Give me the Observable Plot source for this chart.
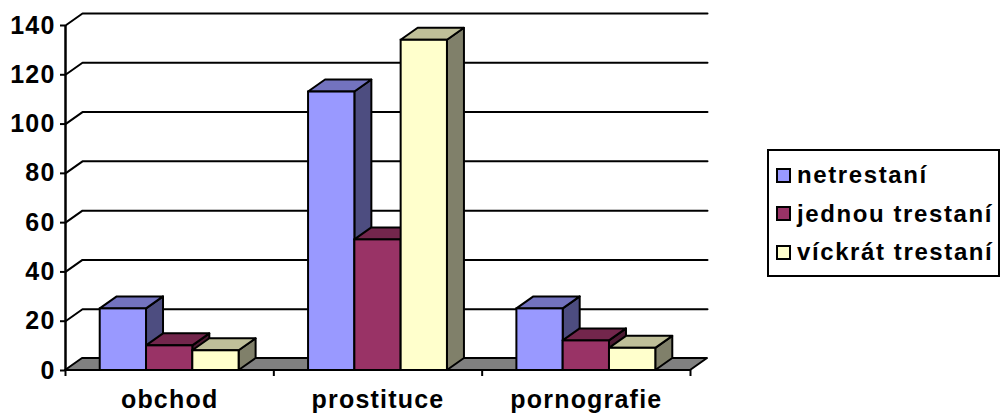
<!DOCTYPE html>
<html>
<head>
<meta charset="utf-8">
<script src="https://cdn.jsdelivr.net/npm/d3@7"></script>
<script src="https://cdn.jsdelivr.net/npm/@observablehq/plot@0.6"></script>
<style>
  html, body { margin: 0; padding: 0; background: #fff; }
  #wrap { position: relative; width: 1004px; height: 417px; overflow: hidden; }
  #legend {
    position: absolute; left: 767px; top: 149px; width: 229px; height: 124px;
    border: 2px solid #000; background: #fff;
    font-family: "Liberation Sans", Arial, sans-serif; font-weight: bold; font-size: 24px;
    letter-spacing: 1.6px; color: #000;
  }
  .item { position: absolute; left: 7px; height: 30px; display: flex; align-items: center; white-space: nowrap; }
  .sw { width: 11px; height: 11px; border: 2px solid #000; margin-right: 6px; flex: none; }
</style>
</head>
<body>
<div id="wrap"><div id="legend"></div></div>
<script>
// ---- data ----
const categories = ["obchod", "prostituce", "pornografie"];
const seriesNames = ["netrestaní", "jednou trestaní", "víckrát trestaní"];
const netrestani = [25, 113, 25];
const jednouTrestani = [10, 53, 12];
const vickratTrestani = [8, 134, 9];
const yTicks = [0, 20, 40, 60, 80, 100, 120, 140];

const seriesValues = [netrestani, jednouTrestani, vickratTrestani];
const frontColors = ["#9999FF", "#993366", "#FFFFCC"];
const topColors = ["#7373BF", "#73264C", "#BFBF99"];
const sideColors = ["#4D4D80", "#4D1A33", "#80806A"];

// 3D depth, in data units (category units along x, value units along y)
const DX = 0.0816;
const DY = 4.87;
const BAR = 2 / 9;      // bar width (gap width 150%)
const GAP = 1 / 6;      // offset of first bar in each category

const marks = [];

// back wall gridlines
const grid = [];
yTicks.filter(v => v > 0).forEach(v => {
  grid.push({x: 0, y: v, k: v}, {x: DX, y: v + DY, k: v}, {x: categories.length + DX, y: v + DY, k: v});
});
marks.push(Plot.line(grid, {x: "x", y: "y", z: "k", stroke: "#000", strokeWidth: 2}));

// floor
const floor = [
  {y: 0, x1: 0, x2: categories.length},
  {y: DY, x1: DX, x2: categories.length + DX}
];
marks.push(Plot.areaX(floor, {y: "y", x1: "x1", x2: "x2", fill: "#808080", stroke: "#000", strokeWidth: 2}));

// y axis line
marks.push(Plot.ruleX([0], {y1: 0, y2: d3.max(yTicks), stroke: "#000", strokeWidth: 2.5}));

// bars
seriesValues.forEach((vals, s) => {
  const bars = vals.map((v, c) => {
    const xa = c + GAP + s * BAR;
    return {c, v, xa, xb: xa + BAR};
  });
  const side = bars.flatMap(b => [
    {x: b.xb, y1: 0, y2: b.v, z: b.c},
    {x: b.xb + DX, y1: DY, y2: b.v + DY, z: b.c}
  ]);
  const top = bars.flatMap(b => [
    {y: b.v, x1: b.xa, x2: b.xb, z: b.c},
    {y: b.v + DY, x1: b.xa + DX, x2: b.xb + DX, z: b.c}
  ]);
  marks.push(Plot.areaY(side, {x: "x", y1: "y1", y2: "y2", z: "z", fill: sideColors[s], stroke: "#000", strokeWidth: 2}));
  marks.push(Plot.areaX(top, {y: "y", x1: "x1", x2: "x2", z: "z", fill: topColors[s], stroke: "#000", strokeWidth: 2}));
  marks.push(Plot.rect(bars, {x1: "xa", x2: "xb", y1: 0, y2: "v", fill: frontColors[s], stroke: "#000", strokeWidth: 2}));
});

// axes
marks.push(Plot.axisY({ticks: yTicks, tickSize: 5, tickPadding: 5, strokeWidth: 2, tickFormat: d => String(d)}));
marks.push(Plot.axisX({ticks: d3.range(categories.length + 1), tickSize: 6, strokeWidth: 2, tickFormat: () => ""}));
marks.push(Plot.axisX({ticks: categories.map((_, i) => i + 0.5), tickSize: 0, tickPadding: 20,
  tickFormat: d => categories[Math.floor(d)]}));

const chart = Plot.plot({
  width: 1004,
  height: 417,
  marginLeft: 65,
  marginRight: 314,
  marginTop: 25,
  marginBottom: 47,
  x: {type: "linear", domain: [0, categories.length]},
  y: {type: "linear", domain: [0, d3.max(yTicks)]},
  style: {
    fontFamily: "'Liberation Sans', Arial, sans-serif",
    fontSize: "25px",
    fontWeight: "bold",
    letterSpacing: "1.2px",
    color: "#000",
    background: "#fff",
    overflow: "visible"
  },
  marks
});
document.getElementById("wrap").prepend(chart);

// legend
const legend = document.getElementById("legend");
seriesNames.forEach((name, i) => {
  const item = document.createElement("div");
  item.className = "item";
  item.style.top = (9 + i * 38.5) + "px";
  const sw = document.createElement("span");
  sw.className = "sw";
  sw.style.background = frontColors[i];
  const t = document.createElement("span");
  t.textContent = name;
  item.appendChild(sw);
  item.appendChild(t);
  legend.appendChild(item);
});
</script>
</body>
</html>
